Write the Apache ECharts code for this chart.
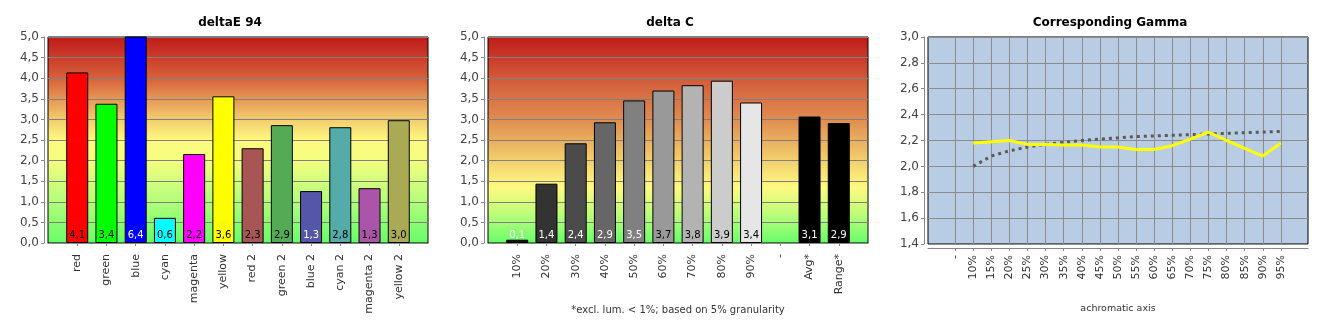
<!DOCTYPE html>
<html>
<head>
<meta charset="utf-8">
<script src="https://cdn.jsdelivr.net/npm/echarts@6/dist/echarts.min.js"></script>
<style>html,body{margin:0;padding:0;background:#fff}#c{width:1330px;height:330px}</style>
</head>
<body>
<div id="c"></div>
<script>
// ---- data ----
const deCategories = ['red','green','blue','cyan','magenta','yellow','red 2','green 2','blue 2','cyan 2','magenta 2','yellow 2'];
const deValues = [4.14, 3.38, 6.4, 0.61, 2.16, 3.56, 2.30, 2.86, 1.26, 2.81, 1.33, 2.98];
const dcCategories = ['10%','20%','30%','40%','50%','60%','70%','80%','90%','-','Avg*','Range*'];
const dcValues = [0.08, 1.44, 2.42, 2.93, 3.46, 3.70, 3.83, 3.94, 3.41, null, 3.07, 2.91];
const gammaCategories = ['-','10%','15%','20%','25%','30%','35%','40%','45%','50%','55%','60%','65%','70%','75%','80%','85%','90%','95%'];
const gammaMeasured = [null, 2.18, 2.19, 2.20, 2.17, 2.17, 2.165, 2.165, 2.15, 2.15, 2.13, 2.13, 2.16, 2.21, 2.265, 2.20, 2.14, 2.08, 2.18];
const gammaTarget = [null, 2.00, 2.08, 2.12, 2.15, 2.17, 2.185, 2.20, 2.21, 2.22, 2.23, 2.235, 2.24, 2.245, 2.25, 2.255, 2.26, 2.265, 2.27];
const deTicks = [0, 0.5, 1, 1.5, 2, 2.5, 3, 3.5, 4, 4.5, 5];
const gammaTicks = [1.4, 1.6, 1.8, 2.0, 2.2, 2.4, 2.6, 2.8, 3.0];

// ---- styles ----
const deColors = ['#ff0000','#00ff00','#0000ff','#00ffff','#ff00ff','#ffff00','#a85555','#55aa55','#5555aa','#55aaaa','#aa55aa','#aaaa55'];
const deLabelColors = ['#000','#000','#fff','#000','#000','#000','#000','#000','#fff','#000','#000','#000'];
const dcColors = ['#111111','#333333','#4b4b4b','#666666','#808080','#999999','#b3b3b3','#cccccc','#e6e6e6','#000','#000000','#000000'];
const dcLabelColors = ['#fff','#fff','#fff','#fff','#fff','#000','#000','#000','#000','#fff','#fff','#fff'];

const FONT = 'DejaVu Sans';
const fmt = v => (Math.round(v * 10) / 10).toFixed(1).replace('.', ',');

function grad(stops) {
  return new echarts.graphic.LinearGradient(0, 0, 0, 1, stops.map(s => ({offset: s[0], color: s[1]})));
}
const bgLeft = grad([[0,'#bf1a1a'],[0.2,'#d6603b'],[0.4,'#f2cc6e'],[0.5,'#fff97f'],[0.6,'#f4fe80'],[0.8,'#b2fd7a'],[1,'#66fd6a']]);
const bgMid = grad([[0,'#bf1a1a'],[0.2,'#d25a3a'],[0.4,'#e08c50'],[0.6,'#f2d06e'],[0.73,'#fffa80'],[0.9,'#a6fd78'],[1,'#66fd6a']]);

const pad = a => [''].concat(a, ['']);
const padN = a => [null].concat(a, [null]);
const nonBlank = (i, v) => v !== '';

// half-slot helper axis for gamma grid lines (lines through category centres)
const gammaHalfSlots = [];
for (let i = 0; i <= 2 * (gammaCategories.length + 2); i++) gammaHalfSlots.push(String(i));
const gammaLineAt = (i) => i % 2 === 1 && i >= 3 && i <= 2 * (gammaCategories.length + 2) - 3;

function barItems(vals, colors, lcolors) {
  return padN(vals.map((v, i) => v == null ? null : ({
    value: v,
    itemStyle: {color: colors[i]},
    label: {color: lcolors[i]}
  })));
}

function barXAxis(grid, cats, name) {
  return {
    type: 'category', gridIndex: grid, data: pad(cats), boundaryGap: false, offset: 3,
    axisLine: {show: true, lineStyle: {color: '#888', width: 1}},
    axisTick: {show: true, interval: nonBlank, length: 3, lineStyle: {color: '#888'}},
    axisLabel: {rotate: 90, interval: 0, margin: 8, fontFamily: FONT, fontSize: 11, color: '#333'},
    splitLine: {show: false},
    name: name || '', nameLocation: 'middle', nameGap: 59,
    nameTextStyle: {fontFamily: FONT, fontSize: 10, color: '#333'}
  };
}
function barYAxis(grid) {
  return {
    type: 'value', gridIndex: grid, min: deTicks[0], max: deTicks[deTicks.length - 1], interval: deTicks[1] - deTicks[0], offset: 4,
    axisLine: {show: true, lineStyle: {color: '#888'}},
    axisTick: {show: true, length: 3, lineStyle: {color: '#888'}},
    axisLabel: {formatter: fmt, fontFamily: FONT, fontSize: 12, color: '#444', margin: 5},
    splitLine: {show: true, lineStyle: {color: '#808080', width: 1}}
  };
}
function barSeries(idx, vals, colors, lcolors) {
  return {
    type: 'bar', xAxisIndex: idx, yAxisIndex: idx, barWidth: 22,
    data: barItems(vals, colors, lcolors),
    itemStyle: {borderColor: '#000', borderWidth: 1},
    label: {show: true, position: 'insideBottom', distance: 3, fontFamily: FONT, fontSize: 10,
      formatter: p => p.value == null ? '' : fmt(p.value)},
    clip: true, animation: false
  };
}

const option = {
  animation: false,
  title: [
    {text: 'deltaE 94', left: 225, top: 12, textAlign: 'center', textStyle: {fontFamily: FONT, fontSize: 12, fontWeight: 'bold', color: '#000'}},
    {text: 'delta C', left: 665, top: 12, textAlign: 'center', textStyle: {fontFamily: FONT, fontSize: 12, fontWeight: 'bold', color: '#000'}},
    {text: 'Corresponding Gamma', left: 1105, top: 12, textAlign: 'center', textStyle: {fontFamily: FONT, fontSize: 12, fontWeight: 'bold', color: '#000'}}
  ],
  grid: [
    {left: 48, top: 37, width: 380, height: 206, show: true, backgroundColor: bgLeft, borderColor: '#000', borderWidth: 1},
    {left: 488, top: 37, width: 380, height: 206, show: true, backgroundColor: bgMid, borderColor: '#000', borderWidth: 1},
    {left: 928, top: 37, width: 380, height: 207, show: true, backgroundColor: '#b8cce4', borderColor: '#000', borderWidth: 1}
  ],
  xAxis: [
    barXAxis(0, deCategories),
    barXAxis(1, dcCategories, '*excl. lum. < 1%; based on 5% granularity'),
    {
      type: 'category', gridIndex: 2, data: pad(gammaCategories), boundaryGap: true, offset: 4,
      axisLine: {show: true, lineStyle: {color: '#888'}},
      axisTick: {show: true, alignWithLabel: true, interval: nonBlank, length: 3, lineStyle: {color: '#888'}},
      axisLabel: {rotate: 90, interval: 0, margin: 7, fontFamily: FONT, fontSize: 11, color: '#333'},
      splitLine: {show: false},
      name: 'achromatic axis', nameLocation: 'middle', nameGap: 56,
      nameTextStyle: {fontFamily: FONT, fontSize: 9.5, color: '#333'}
    },
    {
      type: 'category', gridIndex: 2, data: gammaHalfSlots, boundaryGap: false, position: 'bottom',
      axisLine: {show: false}, axisTick: {show: false}, axisLabel: {show: false},
      splitLine: {show: true, interval: gammaLineAt, lineStyle: {color: '#8c8c8c', width: 1}},
      z: 0
    }
  ],
  yAxis: [
    barYAxis(0),
    barYAxis(1),
    {
      type: 'value', gridIndex: 2, min: gammaTicks[0], max: gammaTicks[gammaTicks.length - 1], interval: 0.2, offset: 4,
      axisLine: {show: true, lineStyle: {color: '#888'}},
      axisTick: {show: true, length: 3, lineStyle: {color: '#888'}},
      axisLabel: {formatter: fmt, fontFamily: FONT, fontSize: 12, color: '#444', margin: 5},
      splitLine: {show: true, lineStyle: {color: '#8c8c8c', width: 1}}
    }
  ],
  series: [
    barSeries(0, deValues, deColors, deLabelColors),
    barSeries(1, dcValues, dcColors, dcLabelColors),
    {
      type: 'line', xAxisIndex: 2, yAxisIndex: 2, data: padN(gammaTarget), symbol: 'none',
      lineStyle: {color: '#5a5a5a', width: 3, type: [3, 4]}, z: 3
    },
    {
      type: 'line', xAxisIndex: 2, yAxisIndex: 2, data: padN(gammaMeasured), symbol: 'none',
      lineStyle: {color: '#ffff00', width: 3}, z: 4
    }
  ]
};

const chart = echarts.init(document.getElementById('c'), null, {renderer: 'canvas'});
chart.setOption(option);
</script>
</body>
</html>
